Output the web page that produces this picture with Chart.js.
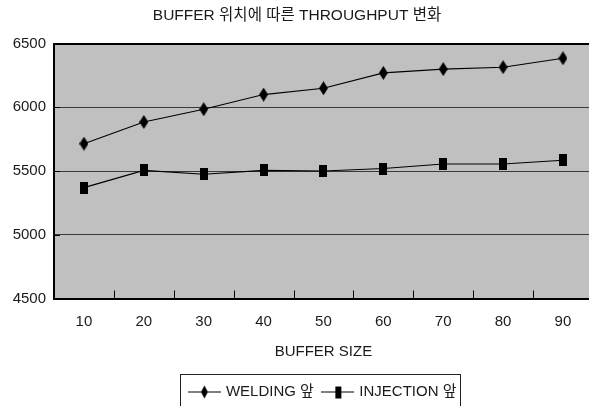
<!DOCTYPE html>
<html>
<head>
<meta charset="utf-8">
<script src="https://cdn.jsdelivr.net/npm/chart.js@4/dist/chart.umd.min.js"></script>
<style>
  html, body { margin: 0; padding: 0; background: #fff; overflow: hidden; width: 589px; height: 406px; }
  #wrap { width: 600px; height: 420px; }
</style>
</head>
<body>
<div id="wrap"><canvas id="c" width="600" height="420" style="width:600px;height:420px"></canvas></div>
<script>
// Buffer sizes on the x axis
const bufferSizes = ['10', '20', '30', '40', '50', '60', '70', '80', '90'];
// Throughput with the buffer placed before the welding station
const weldingThroughput = [5715, 5885, 5985, 6100, 6150, 6270, 6300, 6315, 6385];
// Throughput with the buffer placed before the injection station
const injectionThroughput = [5370, 5505, 5475, 5505, 5500, 5520, 5555, 5555, 5585];
// Series names and titles
const seriesNames = ['WELDING 앞', 'INJECTION 앞'];
const chartTitle = 'BUFFER 위치에 따른 THROUGHPUT 변화';
const xAxisTitle = 'BUFFER SIZE';
// Value axis range
const yMin = 4500, yMax = 6500, yStep = 500;

const FONT = "'Liberation Sans', Arial, 'Noto Sans CJK KR', sans-serif";
Chart.defaults.font.family = FONT;
Chart.defaults.font.size = 15;
Chart.defaults.color = '#1a1a1a';

// Marker images (tall diamond / tall square)
function diamondImg(w, h) {
  const c = document.createElement('canvas');
  c.width = w; c.height = h;
  const g = c.getContext('2d');
  g.fillStyle = '#000';
  g.beginPath();
  g.moveTo(w / 2, 0); g.lineTo(w, h / 2); g.lineTo(w / 2, h); g.lineTo(0, h / 2);
  g.closePath(); g.fill();
  return c;
}
function squareImg(w, h) {
  const c = document.createElement('canvas');
  c.width = w; c.height = h;
  const g = c.getContext('2d');
  g.fillStyle = '#000';
  g.fillRect(0, 0, w, h);
  return c;
}
// Legend sample: a short line with the marker in the middle
function legendImg(marker) {
  const w = 33, h = 15;
  const c = document.createElement('canvas');
  c.width = w; c.height = h;
  const g = c.getContext('2d');
  g.fillStyle = '#000';
  g.fillRect(0, 7, w, 1);
  g.drawImage(marker, Math.round((w - marker.width) / 2), Math.round((h - marker.height) / 2));
  return c;
}

const diamond = diamondImg(9, 14);
const square = squareImg(8, 12);
const legendMarkers = [legendImg(diamondImg(7, 13)), legendImg(squareImg(6, 12))];

// Grey plotting area
const plotBackground = {
  id: 'plotBackground',
  beforeDraw(chart) {
    const { ctx, chartArea: a } = chart;
    ctx.save();
    ctx.fillStyle = '#c0c0c0';
    ctx.fillRect(a.left, a.top, a.right - a.left, a.bottom - a.top);
    ctx.restore();
  }
};

// Short tick marks pointing into the plot area
const innerTicks = {
  id: 'innerTicks',
  beforeDatasetsDraw(chart) {
    const { ctx, chartArea: a, scales } = chart;
    const xs = scales.x, ys = scales.y;
    ctx.save();
    ctx.strokeStyle = '#000';
    ctx.lineWidth = 1;
    ctx.beginPath();
    for (let i = 0; i < bufferSizes.length - 1; i++) {
      const x = Math.round((xs.getPixelForValue(i) + xs.getPixelForValue(i + 1)) / 2) + 0.5;
      ctx.moveTo(x, a.bottom - 8);
      ctx.lineTo(x, a.bottom);
    }
    ys.ticks.forEach(t => {
      if (t.value > yMin && t.value < yMax) {
        const y = Math.round(ys.getPixelForValue(t.value)) + 0.5;
        ctx.moveTo(a.left, y);
        ctx.lineTo(a.left + 6, y);
      }
    });
    ctx.stroke();
    ctx.restore();
  }
};

// Frame around the legend
const legendFrame = {
  id: 'legendFrame',
  afterDraw(chart) {
    const hb = chart.legend && chart.legend.legendHitBoxes;
    if (!hb || !hb.length) return;
    const first = hb[0], last = hb[hb.length - 1];
    const left = Math.round(first.left - 10.5) + 0.5;
    const right = Math.round(last.left + last.width + 3) + 0.5;
    const top = Math.round(first.top - 11) + 0.5;
    const bottom = top + 40;
    const ctx = chart.ctx;
    ctx.save();
    ctx.strokeStyle = '#222';
    ctx.lineWidth = 1;
    ctx.strokeRect(left, top, right - left, bottom - top);
    ctx.restore();
  }
};

new Chart(document.getElementById('c'), {
  type: 'line',
  data: {
    labels: bufferSizes,
    datasets: [
      {
        label: seriesNames[0],
        data: weldingThroughput,
        borderColor: '#000',
        borderWidth: 1.1,
        pointStyle: diamond,
        pointRadius: 6,
        tension: 0,
        fill: false
      },
      {
        label: seriesNames[1],
        data: injectionThroughput,
        borderColor: '#000',
        borderWidth: 1.1,
        pointStyle: square,
        pointRadius: 6,
        tension: 0,
        fill: false
      }
    ]
  },
  options: {
    responsive: false,
    animation: false,
    devicePixelRatio: 1,
    events: [],
    layout: { padding: { left: 0, right: 6, top: 0, bottom: 10.5 } },
    plugins: {
      title: {
        display: true,
        text: chartTitle,
        color: '#1a1a1a',
        font: { size: 15.5, weight: 'normal' },
        padding: { top: 6, bottom: 19 }
      },
      legend: {
        display: true,
        position: 'bottom',
        fullSize: false,
        labels: {
          usePointStyle: true,
          pointStyleWidth: 28,
          padding: 10,
          color: '#1a1a1a',
          font: { size: 15 },
          generateLabels(chart) {
            return chart.data.datasets.map((ds, i) => ({
              text: ds.label,
              pointStyle: legendMarkers[i],
              fillStyle: '#000',
              strokeStyle: '#000',
              lineWidth: 0,
              hidden: false,
              datasetIndex: i,
              fontColor: '#1a1a1a'
            }));
          }
        }
      },
      tooltip: { enabled: false }
    },
    scales: {
      x: {
        type: 'category',
        offset: true,
        grid: { display: true, drawOnChartArea: false, drawTicks: false },
        border: { display: true, color: '#000', width: 2 },
        ticks: { padding: 14, color: '#1a1a1a', font: { size: 15 }, autoSkip: false, maxRotation: 0 },
        title: {
          display: true,
          text: xAxisTitle,
          color: '#1a1a1a',
          font: { size: 15 },
          padding: { top: 0, bottom: 13.5 }
        },
        afterFit(scale) { scale.height = 76; }
      },
      y: {
        min: yMin,
        max: yMax,
        ticks: {
          stepSize: yStep,
          padding: 8,
          color: '#1a1a1a',
          font: { size: 15 },
          callback: v => String(v)
        },
        grid: {
          drawTicks: false,
          color: ctx => ctx.tick && ctx.tick.value === yMax ? '#000' : (ctx.tick && ctx.tick.value === yMin ? 'rgba(0,0,0,0)' : '#3a3a3a'),
          lineWidth: ctx => ctx.tick && ctx.tick.value === yMax ? 2 : 1
        },
        border: { display: true, color: '#000', width: 2 },
        afterFit(scale) { scale.width = 54; }
      }
    }
  },
  plugins: [plotBackground, innerTicks, legendFrame]
});
</script>
</body>
</html>
